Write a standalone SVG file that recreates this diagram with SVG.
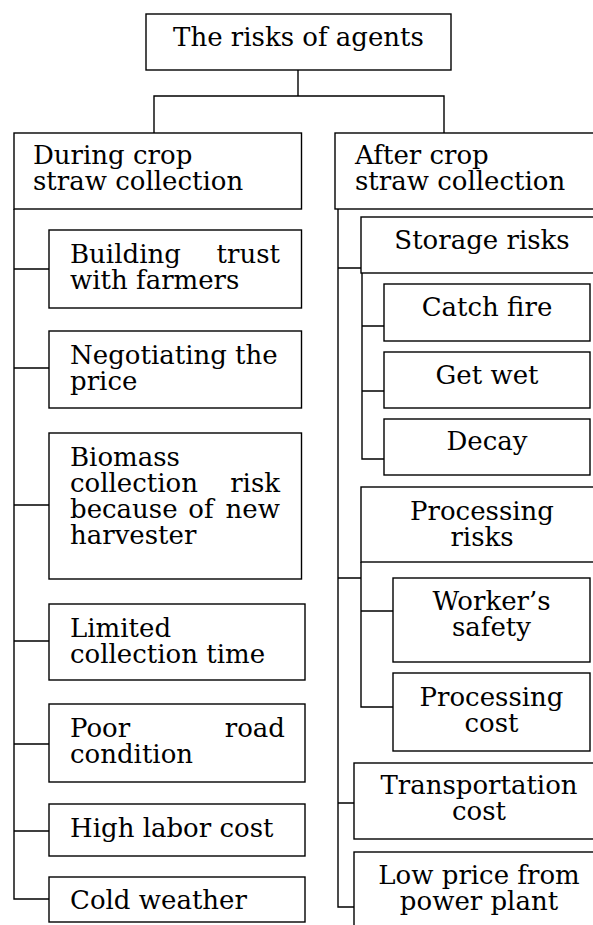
<svg xmlns="http://www.w3.org/2000/svg" width="593" height="925" viewBox="0 0 593 925">
<style>
.box{fill:#fff;stroke:#000;stroke-width:1.4}
.ln{fill:none;stroke:#000;stroke-width:1.4}
text{font-family:"DejaVu Serif","Liberation Serif",serif;font-size:26px;fill:#000}
.c{text-anchor:middle}
.e{text-anchor:end}
</style>
<rect width="593" height="925" fill="#fff"/>
<g id="connectors">
<path class="ln" d="M298,70V96M154,133V96H444V133"/>
<path class="ln" d="M14,209V899H49M14,269H49M14,368H49M14,505H49M14,641H49M14,744H49M14,831H49"/>
<path class="ln" d="M338,209V907H354M338,268H361M338,578H361M338,803H354"/>
<path class="ln" d="M362,273V459H384M362,326H384M362,391H384"/>
<path class="ln" d="M361,562V707H393M361,611H393"/>
</g>
<g id="root"><rect class="box" x="146" y="14" width="305" height="56"/><text class="c" x="298.5" y="46">The risks of agents</text></g>
<g id="during"><rect class="box" x="14" y="133" width="287.5" height="76"/><text><tspan x="33" y="164">During crop</tspan><tspan x="33" y="190">straw collection</tspan></text></g>
<g id="after"><rect class="box" x="335" y="133" width="270" height="76"/><text><tspan x="355" y="164">After crop</tspan><tspan x="355" y="190">straw collection</tspan></text></g>
<g id="trust"><rect class="box" x="49" y="230" width="252.5" height="78"/><text><tspan x="70" y="262.5">Building</tspan><tspan class="e" x="280" y="262.5">trust</tspan><tspan x="70" y="288.5">with farmers</tspan></text></g>
<g id="price"><rect class="box" x="49" y="331" width="252.5" height="77"/><text><tspan x="70" y="363.5">Negotiating the</tspan><tspan x="70" y="389.5">price</tspan></text></g>
<g id="biomass"><rect class="box" x="49" y="433" width="252.5" height="146"/><text><tspan x="70" y="466">Biomass</tspan><tspan x="70" y="492">collection</tspan><tspan class="e" x="280" y="492">risk</tspan><tspan x="70" y="518">because</tspan><tspan class="c" x="201" y="518">of</tspan><tspan class="e" x="280" y="518">new</tspan><tspan x="70" y="544">harvester</tspan></text></g>
<g id="limited"><rect class="box" x="49" y="604" width="256" height="76"/><text><tspan x="70" y="636.5">Limited</tspan><tspan x="70" y="662.5">collection time</tspan></text></g>
<g id="road"><rect class="box" x="49" y="704" width="256" height="78"/><text><tspan x="70" y="736.5">Poor</tspan><tspan class="e" x="285" y="736.5">road</tspan><tspan x="70" y="762.5">condition</tspan></text></g>
<g id="labor"><rect class="box" x="49" y="804" width="256" height="52"/><text x="70" y="836.5">High labor cost</text></g>
<g id="cold"><rect class="box" x="49" y="877" width="256" height="45"/><text x="70" y="909">Cold weather</text></g>
<g id="storage"><rect class="box" x="361" y="217" width="244" height="56"/><text class="c" x="482" y="249">Storage risks</text></g>
<g id="fire"><rect class="box" x="384" y="284" width="206" height="57"/><text class="c" x="487" y="316">Catch fire</text></g>
<g id="wet"><rect class="box" x="384" y="352" width="206" height="56"/><text class="c" x="487" y="383.5">Get wet</text></g>
<g id="decay"><rect class="box" x="384" y="419" width="206" height="56"/><text class="c" x="487" y="450">Decay</text></g>
<g id="processing"><rect class="box" x="361" y="487" width="244" height="75"/><text class="c"><tspan x="482" y="520">Processing</tspan><tspan x="482" y="546">risks</tspan></text></g>
<g id="worker"><rect class="box" x="393" y="578" width="197" height="84"/><text class="c"><tspan x="491.5" y="609.5">Worker’s</tspan><tspan x="491.5" y="635.5">safety</tspan></text></g>
<g id="proccost"><rect class="box" x="393" y="673" width="197" height="78"/><text class="c"><tspan x="491.5" y="706">Processing</tspan><tspan x="491.5" y="732">cost</tspan></text></g>
<g id="transport"><rect class="box" x="354" y="763" width="251" height="76"/><text class="c"><tspan x="479" y="794">Transportation</tspan><tspan x="479" y="820">cost</tspan></text></g>
<g id="lowprice"><rect class="box" x="354" y="852" width="251" height="80"/><text class="c"><tspan x="479" y="883.5">Low price from</tspan><tspan x="479" y="909.5">power plant</tspan></text></g>
</svg>
